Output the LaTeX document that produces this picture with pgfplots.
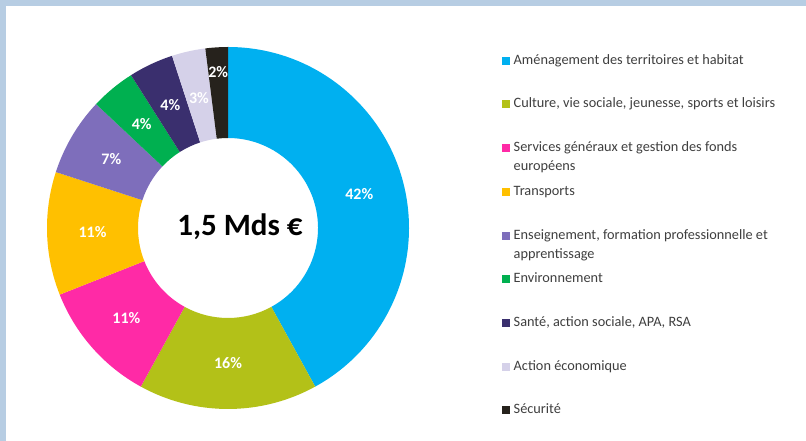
\documentclass[border=0pt]{standalone}
\usepackage{fontspec}
\setmainfont{Carlito}
\usepackage{pgfplots}
\usepackage{pgfplotstable}
\pgfplotsset{compat=1.18}
\definecolor{framecol}{HTML}{B7CDE3}
\definecolor{c1}{HTML}{00B0F0}
\definecolor{c2}{HTML}{B3C118}
\definecolor{c3}{HTML}{FF2AA6}
\definecolor{c4}{HTML}{FFC000}
\definecolor{c5}{HTML}{7E6EBB}
\definecolor{c6}{HTML}{00B050}
\definecolor{c7}{HTML}{3A2F6E}
\definecolor{c8}{HTML}{D5D1E9}
\definecolor{c9}{HTML}{26221C}
\definecolor{legtext}{HTML}{3F3F3F}

% pct, colour, radius of the percentage label
\pgfplotstableread[col sep=comma]{
pct,col,rl
42,c1,135.5
16,c2,135.5
11,c3,135.5
11,c4,135.5
7,c5,135.5
4,c6,135.5
4,c7,135.5
3,c8,133
2,c9,156
}\donut

\tikzset{
  slicelab/.style={font=\bfseries\fontsize{16}{16}\selectfont, text=white, inner sep=0pt},
  legtxt/.style={font=\fontsize{14.3}{19}\selectfont, text=legtext, anchor=base west, inner sep=0pt, align=left},
}

\begin{document}
\begin{tikzpicture}
\begin{axis}[
  x=1pt, y=1pt,
  xmin=0, xmax=806, ymin=0, ymax=441,
  hide axis, clip=false,
  anchor=origin, at={(0,0)},
]
% frame
\fill[framecol] (axis cs:0,0) rectangle (axis cs:806,441);
\fill[white] (axis cs:6,0) rectangle (axis cs:806,435);

% donut
\def\cx{228}
\def\cy{213}
\def\ro{181}
\def\ri{90}
\pgfplotstablegetrowsof{\donut}
\pgfmathtruncatemacro\N{\pgfplotsretval-1}
\def\cum{0}
\pgfplotsforeachungrouped \i in {0,...,\N}{%
  \pgfplotstablegetelem{\i}{pct}\of\donut \let\p\pgfplotsretval
  \pgfplotstablegetelem{\i}{col}\of\donut \let\c\pgfplotsretval
  \pgfplotstablegetelem{\i}{rl}\of\donut \let\rl\pgfplotsretval
  \pgfmathsetmacro\aone{90-3.6*\cum}
  \pgfmathsetmacro\cumn{\cum+\p}
  \pgfmathsetmacro\atwo{90-3.6*\cumn}
  \pgfmathsetmacro\amid{(\aone+\atwo)/2}
  \pgfmathsetmacro\xa{\cx+\ro*cos(\aone)}
  \pgfmathsetmacro\ya{\cy+\ro*sin(\aone)}
  \pgfmathsetmacro\xb{\cx+\ri*cos(\atwo)}
  \pgfmathsetmacro\yb{\cy+\ri*sin(\atwo)}
  \pgfmathsetmacro\xl{\cx+\rl*cos(\amid)}
  \pgfmathsetmacro\yl{\cy+\rl*sin(\amid)}
  \edef\temp{%
    \noexpand\fill[\c] (axis cs:\xa,\ya) arc[start angle=\aone, end angle=\atwo, radius=\ro pt]
      -- (axis cs:\xb,\yb) arc[start angle=\atwo, end angle=\aone, radius=\ri pt] -- cycle;
    \noexpand\node[slicelab] at (axis cs:\xl,\yl) {\p\noexpand\%};
  }%
  \temp
  \let\cum\cumn
}

% centre text
\node[font=\bfseries\fontsize{31}{31}\selectfont, text=black] at (axis cs:240,214) {1,5 Mds €};

% legend
\fill[c1] (axis cs:502,384) rectangle (axis cs:510,376);
\node[legtxt] at (axis cs:513.5,376) {Aménagement des territoires et habitat};
\fill[c2] (axis cs:502,341) rectangle (axis cs:510,333);
\node[legtxt] at (axis cs:513.5,333) {Culture, vie sociale, jeunesse, sports et loisirs};
\fill[c3] (axis cs:502,297) rectangle (axis cs:510,289);
\node[legtxt] at (axis cs:513.5,289) {Services généraux et gestion des fonds};
\node[legtxt] at (axis cs:513.5,270) {européens};
\fill[c4] (axis cs:502,253) rectangle (axis cs:510,245);
\node[legtxt] at (axis cs:513.5,245) {Transports};
\fill[c5] (axis cs:502,209) rectangle (axis cs:510,201);
\node[legtxt] at (axis cs:513.5,201) {Enseignement, formation professionnelle et};
\node[legtxt] at (axis cs:513.5,182) {apprentissage};
\fill[c6] (axis cs:502,166) rectangle (axis cs:510,158);
\node[legtxt] at (axis cs:513.5,158) {Environnement};
\fill[c7] (axis cs:502,122) rectangle (axis cs:510,114);
\node[legtxt] at (axis cs:513.5,114) {Santé, action sociale, APA, RSA};
\fill[c8] (axis cs:502,78) rectangle (axis cs:510,70);
\node[legtxt] at (axis cs:513.5,70) {Action économique};
\fill[c9] (axis cs:502,35) rectangle (axis cs:510,27);
\node[legtxt] at (axis cs:513.5,27) {Sécurité};
\end{axis}
\end{tikzpicture}
\end{document}
